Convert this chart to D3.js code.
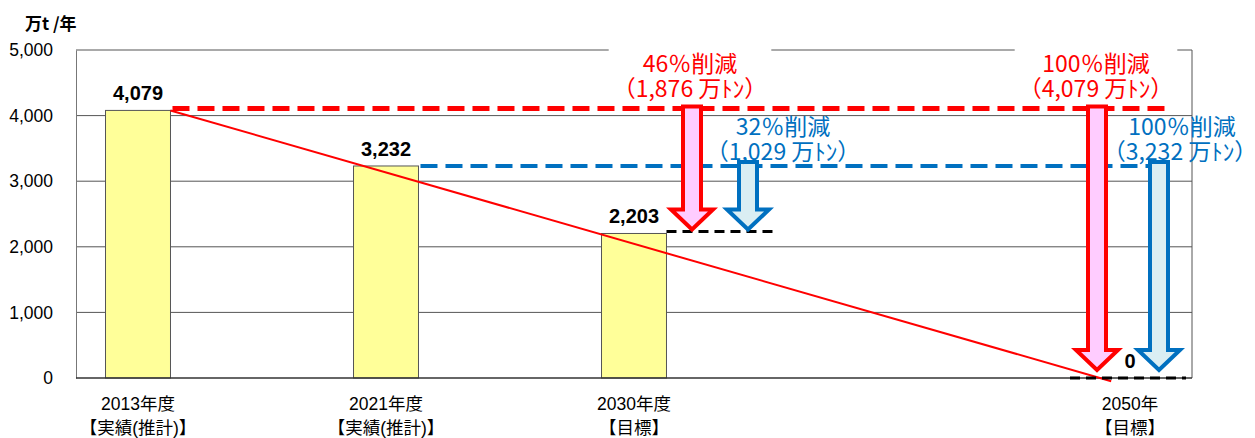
<!DOCTYPE html>
<html><head><meta charset="utf-8">
<style>body{margin:0;background:#fff}</style>
</head><body>
<svg width="1255" height="438"></svg>
<script src="https://d3js.org/d3.v7.min.js"></script>
<script>
var categories = ["2013年度", "2021年度", "2030年度", "", "2050年"];
var subLabels = ["【実績(推計)】", "【実績(推計)】", "【目標】", "", "【目標】"];
var values = [4079, 3232, 2203, null, 0];
var yTicks = [0, 1000, 2000, 3000, 4000, 5000];

// reduction arrows
var arrowFrom = [4079, 3232, 4079, 3232];
var arrowTo = [2203, 2203, 0, 0];
var arrowPct = ["46％削減", "32％削減", "100％削減", "100％削減"];
var arrowAmt = ["（1,876 万ﾄﾝ）", "（1,029 万ﾄﾝ）", "（4,079 万ﾄﾝ）", "（3,232 万ﾄﾝ）"];

var svg = d3.select("svg"),
    pLeft = 76, pRight = 1192, pTop = 50, pBottom = 378;
var font = "'Liberation Sans', 'Noto Sans CJK JP', sans-serif";
var jp = "'Noto Sans CJK JP', sans-serif";

var x = d3.scalePoint().domain(d3.range(categories.length)).range([pLeft, pRight]).padding(0.25);
var y = d3.scaleLinear().domain([0, 5000]).range([pBottom, pTop]);
var bw = x.step() * 0.262;

// gridlines
svg.append("g").selectAll("line").data(yTicks.slice(1, -1)).join("line")
    .attr("x1", pLeft).attr("x2", pRight)
    .attr("y1", d => y(d)).attr("y2", d => y(d))
    .attr("stroke", "#555").attr("stroke-width", 1);

// frame
svg.append("line").attr("x1", pLeft).attr("x2", pRight).attr("y1", pTop).attr("y2", pTop).attr("stroke", "#555");
svg.append("line").attr("x1", pRight).attr("x2", pRight).attr("y1", pTop).attr("y2", pBottom).attr("stroke", "#555");

var yAxis = d3.axisLeft(y).tickValues(yTicks).tickSize(0).tickPadding(23).tickFormat(d3.format(","));
var ga = svg.append("g").attr("transform", "translate(" + pLeft + ",0)").call(yAxis);
ga.select(".domain").attr("stroke", "#777");
ga.selectAll("text").attr("font-family", font).attr("font-size", 17.5).attr("fill", "#000");

svg.append("text").attr("x", 25).attr("y", 30).attr("font-family", jp)
    .attr("font-size", 17).attr("font-weight", "bold").text("万t /年");

// bars
var idx = d3.range(values.length).filter(i => values[i] !== null);
svg.append("g").selectAll("rect").data(idx).join("rect")
    .attr("x", i => x(i) - bw / 2).attr("width", bw)
    .attr("y", i => y(values[i])).attr("height", i => pBottom - y(values[i]))
    .attr("fill", "#FFFF99").attr("stroke", "#555").attr("stroke-width", 1);

svg.append("line").attr("x1", pLeft).attr("x2", pRight).attr("y1", pBottom).attr("y2", pBottom)
    .attr("stroke", "#333").attr("stroke-width", 1.5);

// category labels
var cl = svg.append("g").attr("font-family", font).attr("font-size", 17.5).attr("text-anchor", "middle");
cl.selectAll(".c1").data(idx).join("text").attr("class", "c1").attr("x", i => x(i)).attr("y", 410).text(i => categories[i]);
cl.selectAll(".c2").data(idx).join("text").attr("class", "c2").attr("x", i => x(i)).attr("y", 434).text(i => subLabels[i]);

// trend line
var x0 = x(0) + bw / 2, x4 = x(4) - 30;
var t = 1.012;
svg.append("line").attr("x1", x0).attr("y1", y(values[0]))
    .attr("x2", x0 + (x4 - x0) * t).attr("y2", y(values[0]) + (y(0) - y(values[0])) * t)
    .attr("stroke", "#FF0000").attr("stroke-width", 2);

// dashed reference lines
svg.append("line").attr("x1", x0 + 2).attr("x2", 1170).attr("y1", y(values[0]) - 2).attr("y2", y(values[0]) - 2)
    .attr("stroke", "#FF0000").attr("stroke-width", 5).attr("stroke-dasharray", "17,8");
svg.append("line").attr("x1", x(1) + bw / 2 + 2).attr("x2", 1150).attr("y1", y(values[1])).attr("y2", y(values[1]))
    .attr("stroke", "#0070C0").attr("stroke-width", 4).attr("stroke-dasharray", "17,8");
svg.append("line").attr("x1", x(2) + bw / 2).attr("x2", 778).attr("y1", y(values[2]) - 2).attr("y2", y(values[2]) - 2)
    .attr("stroke", "#000").attr("stroke-width", 3).attr("stroke-dasharray", "10,6");
svg.append("line").attr("x1", 1070).attr("x2", 1186).attr("y1", y(0)).attr("y2", y(0))
    .attr("stroke", "#000").attr("stroke-width", 3).attr("stroke-dasharray", "10,6");

// value labels
svg.append("g").selectAll("text").data(idx).join("text")
    .attr("x", i => x(i)).attr("y", i => y(values[i]) - 10)
    .attr("text-anchor", "middle").attr("font-family", font).attr("font-size", 20).attr("font-weight", "bold")
    .text(i => d3.format(",")(values[i]));

// arrows
var arrowX = [x(2) + 58, x(2) + 114, x(4) - 33, x(4) + 29];
var arrowStroke = ["#FF0000", "#0070C0", "#FF0000", "#0070C0"];
var arrowFill = ["#FFCCFF", "#DAEEF3", "#FFCCFF", "#DAEEF3"];
function arrowPath(cx, y1, y2) {
  var sw = 9, hw = 21, hh = 20;
  return "M" + (cx - sw) + "," + y1 + "L" + (cx + sw) + "," + y1 + "L" + (cx + sw) + "," + (y2 - hh) +
    "L" + (cx + hw) + "," + (y2 - hh) + "L" + cx + "," + y2 + "L" + (cx - hw) + "," + (y2 - hh) +
    "L" + (cx - sw) + "," + (y2 - hh) + "Z";
}
svg.append("g").selectAll("path").data(d3.range(arrowFrom.length)).join("path")
    .attr("d", i => arrowPath(arrowX[i], y(arrowFrom[i]) - 4, y(arrowTo[i]) - (arrowTo[i] === 0 ? 8 : 4)))
    .attr("fill", i => arrowFill[i]).attr("stroke", i => arrowStroke[i]).attr("stroke-width", 4)
    .attr("stroke-linejoin", "miter");

// annotation texts
var annX = [690, 783, 1096, 1182];
var annY = [72, 135, 72, 135];
var ann = svg.append("g").attr("font-family", jp).attr("text-anchor", "middle").attr("font-size", 23);
d3.range(arrowPct.length).forEach(function (i) {
  var g = ann.append("g");
  g.append("text").attr("x", annX[i]).attr("y", annY[i]).attr("fill", arrowStroke[i]).text(arrowPct[i]);
  g.append("text").attr("x", annX[i] - (i === 3 ? 2 : 0)).attr("y", annY[i] + 25).attr("fill", arrowStroke[i]).text(arrowAmt[i]);
  if (i % 2 === 0) {
    var b = g.node().getBBox();
    g.insert("rect", "text").attr("x", b.x - 4).attr("y", b.y - 4).attr("width", b.width + 8).attr("height", b.height)
      .attr("fill", "#fff");
  }
});
</script>
</body></html>
